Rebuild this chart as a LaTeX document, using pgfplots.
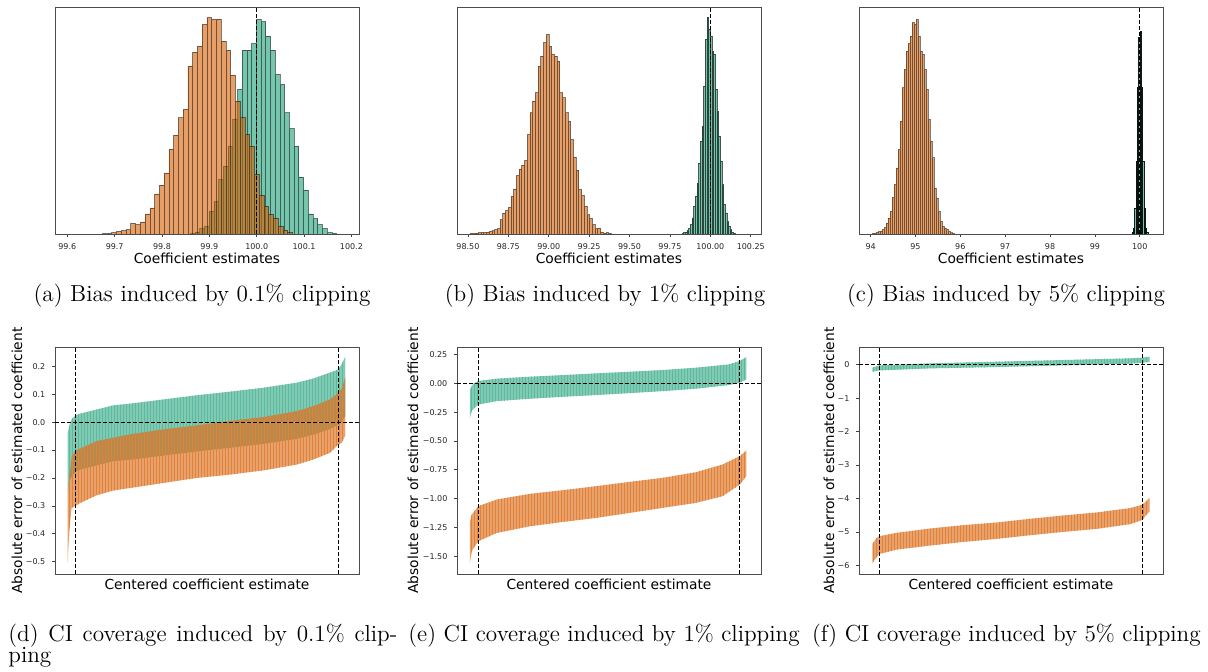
\documentclass[border=0pt]{standalone}
\usepackage{pgfplots}
\pgfplotsset{compat=1.18}
\usetikzlibrary{patterns.meta}
\usepackage{fontspec}
\newfontfamily\dejavu{DejaVu Sans}
\definecolor{dkgreen}{HTML}{1B9E77}
\definecolor{dkorange}{HTML}{D95F02}
\newcommand\lblfont{\dejavu\fontsize{6.9}{8}\selectfont}
\pgfplotsset{
  base/.style={scale only axis, width=152pt, height=113.5pt, anchor=south west,
    enlargelimits=false, axis line style={black!70, line width=0.45pt},
    tick style={black!75, line width=0.35pt}, tick align=outside, major tick length=1.3pt,
    ticklabel style={font=\dejavu\fontsize{4}{4.7}\selectfont, text=black!85}},
  toph/.style={base, ymin=0, ymax=680, ytick=\empty, xtick pos=bottom,
    xlabel={Coefficient estimates},
    every axis x label/.style={at={(axis description cs:0.5,-0.1057)}, anchor=center, font=\lblfont}},
  both/.style={base, xtick=\empty, ytick pos=left,
    xlabel={Centered coefficient estimate},
    ylabel={Absolute error of estimated coefficient},
    every axis x label/.style={at={(axis description cs:0.5,-0.044)}, anchor=center, font=\lblfont}},
  hg/.style={ybar interval, fill=dkgreen, fill opacity=0.6, draw=black, draw opacity=0.5, line width=0.38pt},
  ho/.style={ybar interval, fill=dkorange, fill opacity=0.6, draw=black, draw opacity=0.5, line width=0.38pt},
  bg/.style={draw=none, fill=dkgreen, fill opacity=0.55},
  bo/.style={draw=none, fill=dkorange, fill opacity=0.58},
  bgs/.style={draw=none, pattern={Lines[angle=90,distance=1.5pt,line width=0.3pt]}, pattern color=dkgreen!72!white},
  bos/.style={draw=none, pattern={Lines[angle=90,distance=1.5pt,line width=0.3pt]}, pattern color=dkorange!78!white},
  refl/.style={black, line width=0.5pt, dash pattern=on 2pt off 1pt},
}
\begin{document}
\begin{tikzpicture}
\path[use as bounding box] (0,0) rectangle (604pt,336pt);

% (a)
\begin{axis}[toph, at={(27.5pt,219pt)}, xmin=99.574, xmax=100.216,
  xtick={99.6,99.7,99.8,99.9,100.0,100.1,100.2},
  xticklabels={99.6,99.7,99.8,99.9,100.0,100.1,100.2}]
\addplot[hg] coordinates {(99.8598,2) (99.8698,6) (99.8797,16) (99.8897,23) (99.8997,68) (99.9096,98) (99.9196,163) (99.9296,203) (99.9395,263) (99.9495,343) (99.9595,433) (99.9694,551) (99.9794,551) (99.9893,570) (99.9993,643) (100.0093,636) (100.0192,593) (100.0292,551) (100.0392,478) (100.0491,448) (100.0591,363) (100.0691,316) (100.0790,263) (100.0890,170) (100.0990,132) (100.1089,60) (100.1189,46) (100.1289,28) (100.1388,16) (100.1488,4) (100.1588,2) (100.1687,0)};
\addplot[ho] coordinates {(99.6740,1) (99.6840,2) (99.6940,4) (99.7041,8) (99.7141,10) (99.7242,13) (99.7342,32) (99.7442,28) (99.7543,36) (99.7643,60) (99.7744,78) (99.7844,120) (99.7944,146) (99.8045,183) (99.8145,254) (99.8245,296) (99.8346,348) (99.8446,373) (99.8547,503) (99.8647,545) (99.8747,563) (99.8848,628) (99.8948,648) (99.9048,643) (99.9149,644) (99.9249,578) (99.9349,551) (99.9450,476) (99.9550,398) (99.9651,348) (99.9751,298) (99.9851,263) (99.9952,178) (100.0052,116) (100.0153,83) (100.0253,58) (100.0353,48) (100.0454,23) (100.0554,10) (100.0655,4) (100.0755,0)};
\addplot[refl] coordinates {(100,0) (100,680)};
\end{axis}

% (b)
\begin{axis}[toph, at={(228.5pt,219pt)}, xmin=98.4324, xmax=100.3135,
  xtick={98.5,98.75,99,99.25,99.5,99.75,100,100.25},
  xticklabels={98.50,98.75,99.00,99.25,99.50,99.75,100.00,100.25}]
\addplot[hg, draw opacity=0.65] coordinates {(99.8258,2) (99.8361,4) (99.8463,6) (99.8566,10) (99.8668,16) (99.8770,28) (99.8873,48) (99.8975,83) (99.9078,113) (99.9180,153) (99.9283,213) (99.9385,278) (99.9488,323) (99.9590,443) (99.9692,583) (99.9795,650) (99.9897,613) (100.0000,593) (100.0102,548) (100.0205,538) (100.0307,433) (100.0410,368) (100.0512,293) (100.0615,218) (100.0717,148) (100.0820,88) (100.0922,63) (100.1025,38) (100.1127,23) (100.1229,13) (100.1332,5) (100.1434,2) (100.1537,0)};
\addplot[ho] coordinates {(98.5143,2) (98.5311,2) (98.5479,3) (98.5647,4) (98.5815,5) (98.5983,5) (98.6151,6) (98.6320,8) (98.6488,10) (98.6656,13) (98.6824,16) (98.6992,43) (98.7160,63) (98.7328,70) (98.7496,80) (98.7664,113) (98.7832,135) (98.8000,175) (98.8168,195) (98.8336,206) (98.8504,220) (98.8672,298) (98.8840,363) (98.9008,398) (98.9176,423) (98.9344,503) (98.9512,533) (98.9680,573) (98.9848,598) (99.0016,563) (99.0184,538) (99.0352,533) (99.0520,518) (99.0688,423) (99.0856,408) (99.1024,363) (99.1192,338) (99.1360,283) (99.1528,230) (99.1696,191) (99.1864,133) (99.2032,115) (99.2200,83) (99.2368,58) (99.2536,46) (99.2704,28) (99.2872,16) (99.3040,18) (99.3208,6) (99.3376,2) (99.3544,4) (99.3713,2) (99.3881,0)};
\addplot[refl] coordinates {(100,0) (100,680)};
\end{axis}

% (c)
\begin{axis}[toph, at={(429.5pt,219pt)}, xmin=93.741, xmax=100.519,
  xtick={94,95,96,97,98,99,100},
  xticklabels={94,95,96,97,98,99,100}]
\addplot[hg, draw opacity=0.9] coordinates {(99.8296,4) (99.8593,16) (99.8889,78) (99.9185,218) (99.9481,438) (99.9778,588) (100.0074,608) (100.0370,438) (100.0667,218) (100.0963,78) (100.1259,16) (100.1556,4) (100.1852,0)};
\addplot[ho] coordinates {(94.0370,2) (94.0815,3) (94.1259,5) (94.1704,7) (94.2148,9) (94.2593,13) (94.3037,20) (94.3481,33) (94.3926,48) (94.4370,68) (94.4815,110) (94.5259,148) (94.5704,198) (94.6148,253) (94.6593,338) (94.7037,438) (94.7481,493) (94.7926,548) (94.8370,570) (94.8815,593) (94.9259,633) (94.9704,628) (95.0148,643) (95.0593,593) (95.1037,548) (95.1481,538) (95.1926,493) (95.2370,433) (95.2815,343) (95.3259,278) (95.3704,228) (95.4148,138) (95.4593,108) (95.5037,68) (95.5481,38) (95.5926,23) (95.6370,18) (95.6815,13) (95.7259,8) (95.7704,4) (95.8148,2) (95.8593,0)};
\addplot[refl] coordinates {(100,0) (100,680)};
\end{axis}

% (d)
\begin{axis}[both, at={(27.5pt,49pt)}, xmin=75, xmax=987, ymin=-0.544, ymax=0.269,
  ytick={0.2,0.1,0,-0.1,-0.2,-0.3,-0.4,-0.5},
  yticklabels={0.2,0.1,0.0,−0.1,−0.2,−0.3,−0.4,−0.5},
  every axis y label/.style={at={(axis description cs:-0.125,0.5)}, rotate=90, anchor=center, font=\lblfont}]
\pgfplotstableread{
x y
113 -0.038
118 -0.014
125 0.010
137 0.025
150 0.030
200 0.045
250 0.060
300 0.066
400 0.081
500 0.096
600 0.109
700 0.123
800 0.141
850 0.156
900 0.177
925 0.189
935 0.207
945 0.233
945 0.020
935 0.000
925 -0.010
900 -0.025
850 -0.045
800 -0.060
700 -0.078
600 -0.092
500 -0.105
400 -0.120
300 -0.135
250 -0.140
200 -0.155
150 -0.170
137 -0.178
125 -0.195
118 -0.215
113 -0.248
}\dG
\pgfplotstableread{
x y
113 -0.250
118 -0.200
125 -0.125
137 -0.102
150 -0.095
200 -0.068
300 -0.044
400 -0.026
500 -0.012
600 0.004
700 0.018
800 0.039
850 0.057
900 0.081
925 0.105
935 0.120
945 0.159
945 -0.050
935 -0.075
925 -0.080
900 -0.110
850 -0.134
800 -0.152
700 -0.173
600 -0.188
500 -0.200
400 -0.218
300 -0.236
250 -0.245
200 -0.262
150 -0.290
137 -0.300
125 -0.307
118 -0.385
113 -0.505
}\dO
\addplot[bg] table {\dG} -- cycle;
\addplot[bgs] table {\dG} -- cycle;
\addplot[bo] table {\dO} -- cycle;
\addplot[bos] table {\dO} -- cycle;
\addplot[refl] coordinates {(75,0) (987,0)};
\addplot[refl] coordinates {(137,-0.544) (137,0.269)};
\addplot[refl] coordinates {(925,-0.544) (925,0.269)};
\end{axis}

% (e)
\begin{axis}[both, at={(228.5pt,49pt)}, xmin=81, xmax=996, ymin=-1.654, ymax=0.316,
  ytick={0.25,0,-0.25,-0.5,-0.75,-1,-1.25,-1.5},
  yticklabels={0.25,0.00,−0.25,−0.50,−0.75,−1.00,−1.25,−1.50},
  every axis y label/.style={at={(axis description cs:-0.1447,0.5)}, rotate=90, anchor=center, font=\lblfont}]
\pgfplotstableread{
x y
120 -0.052
130 -0.003
145 0.020
200 0.041
300 0.058
400 0.072
500 0.087
600 0.101
700 0.116
800 0.136
900 0.165
932 0.194
952 0.229
952 0.035
932 0.006
900 -0.014
800 -0.046
700 -0.067
600 -0.084
500 -0.101
400 -0.116
300 -0.133
200 -0.154
145 -0.183
125 -0.240
120 -0.298
}\eG
\pgfplotstableread{
x y
120 -1.200
125 -1.140
145 -1.066
200 -1.008
300 -0.959
400 -0.927
500 -0.892
600 -0.855
700 -0.820
800 -0.771
880 -0.704
932 -0.632
952 -0.582
952 -0.805
932 -0.878
880 -0.979
800 -1.037
700 -1.080
600 -1.124
500 -1.167
400 -1.202
300 -1.240
200 -1.298
145 -1.370
125 -1.457
120 -1.559
}\eO
\addplot[bg] table {\eG} -- cycle;
\addplot[bgs] table {\eG} -- cycle;
\addplot[bo] table {\eO} -- cycle;
\addplot[bos] table {\eO} -- cycle;
\addplot[refl] coordinates {(81,0) (996,0)};
\addplot[refl] coordinates {(145,-1.654) (145,0.316)};
\addplot[refl] coordinates {(932,-1.654) (932,0.316)};
\end{axis}

% (f)
\begin{axis}[both, at={(429.5pt,49pt)}, xmin=87, xmax=999, ymin=-6.26, ymax=0.53,
  ytick={0,-1,-2,-3,-4,-5,-6},
  yticklabels={0,−1,−2,−3,−4,−5,−6},
  every axis y label/.style={at={(axis description cs:-0.0987,0.5)}, rotate=90, anchor=center, font=\lblfont}]
\pgfplotstableread{
x y
127 -0.09
148 -0.02
300 0.04
500 0.09
700 0.14
900 0.19
937 0.21
958 0.24
958 0.08
937 0.06
900 0.03
700 -0.02
500 -0.07
300 -0.11
148 -0.17
127 -0.21
}\fG
\pgfplotstableread{
x y
127 -5.36
140 -5.18
148 -5.13
200 -5.03
300 -4.90
400 -4.80
500 -4.72
600 -4.61
700 -4.51
800 -4.42
900 -4.29
937 -4.19
958 -3.99
958 -4.39
937 -4.64
900 -4.77
800 -4.91
700 -5.00
600 -5.10
500 -5.21
400 -5.30
300 -5.41
200 -5.53
148 -5.66
140 -5.76
127 -5.93
}\fO
\addplot[bg] table {\fG} -- cycle;
\addplot[bgs] table {\fG} -- cycle;
\addplot[bo] table {\fO} -- cycle;
\addplot[bos] table {\fO} -- cycle;
\addplot[refl] coordinates {(87,0) (999,0)};
\addplot[refl] coordinates {(148,-6.26) (148,0.53)};
\addplot[refl] coordinates {(937,-6.26) (937,0.53)};
\end{axis}

% captions
\begin{scope}[every node/.style={inner sep=0pt, font=\fontsize{11.6}{10.5}\selectfont}]
\node[anchor=base] at (101pt,185.2pt) {(a) Bias induced by 0.1\% clipping};
\node[anchor=base] at (302.5pt,185.2pt) {(b) Bias induced by 1\% clipping};
\node[anchor=base] at (503pt,185.2pt) {(c) Bias induced by 5\% clipping};
\node[anchor=base west] at (4pt,15pt) {\parbox[t]{194.5pt}{\lineskiplimit=-20pt\fontsize{11.6}{10.5}\selectfont (d) CI coverage induced by 0.1\% clip-\linebreak ping}};
\node[anchor=base west] at (204pt,15pt) {(e) CI coverage induced by 1\% clipping};
\node[anchor=base west] at (405.8pt,15pt) {(f) CI coverage induced by 5\% clipping};
\end{scope}
\end{tikzpicture}
\end{document}
